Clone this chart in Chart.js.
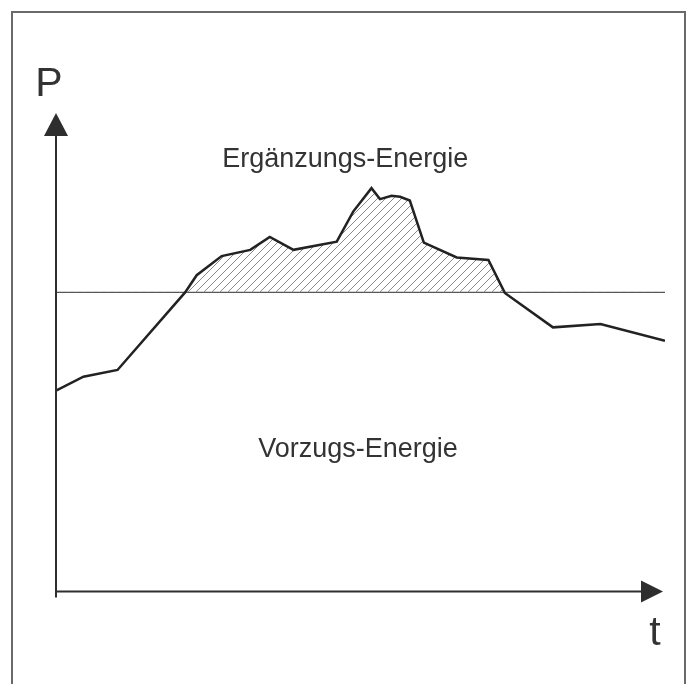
<!DOCTYPE html>
<html>
<head>
<meta charset="utf-8">
<script src="https://cdn.jsdelivr.net/npm/chart.js@4.4.1/dist/chart.umd.min.js"></script>
<style>
  html, body { margin:0; padding:0; background:#fff; }
  #wrap { position:relative; width:688px; height:684px; overflow:hidden; }
  #frame { position:absolute; left:11px; top:11px; width:675px; height:700px; border:2px solid #6a6a6a; box-sizing:border-box; }
  canvas { position:absolute; left:0; top:0; }
</style>
</head>
<body>
<div id="wrap">
  <div id="frame"></div>
  <canvas id="chart" width="688" height="684"></canvas>
</div>
<script>
// time axis (arbitrary units 0..100) and power values
const tValues = [0, 4.5, 10.1, 21.2, 23.1, 27.2, 31.9, 35.1, 39.0, 46.1, 48.8, 51.8, 53.2, 55.1, 56.5, 58.1, 60.4, 65.8, 71.0, 73.7, 81.6, 89.4, 100];
const pValues = [42.0, 44.9, 46.3, 62.5, 66.1, 70.1, 71.4, 74.1, 71.4, 73.1, 79.4, 84.3, 82.0, 82.7, 82.5, 81.7, 72.9, 69.8, 69.3, 62.4, 55.2, 55.9, 52.4];
// base level (Vorzugs-Energie limit)
const baseLevel = 62.5;
const refT = [0, 100];

const labelTop = "Ergänzungs-Energie";
const labelBottom = "Vorzugs-Energie";
const axisY = "P";
const axisX = "t";

function hatch(){
  const c = document.createElement("canvas");
  c.width = 8; c.height = 8;
  const g = c.getContext("2d");
  g.strokeStyle = "#8a8a8a";
  g.lineWidth = 1;
  g.beginPath();
  g.moveTo(0, 8); g.lineTo(8, 0);
  g.moveTo(-1, 1); g.lineTo(1, -1);
  g.moveTo(7, 9); g.lineTo(9, 7);
  g.stroke();
  return g.createPattern(c, "repeat");
}

// axes with arrow heads + texts
const sketchPlugin = {
  id: "sketch",
  afterDraw(chart){
    const ctx = chart.ctx;
    const xs = chart.scales.x, ys = chart.scales.y;
    const x0 = xs.getPixelForValue(0);
    const y0 = ys.getPixelForValue(0);
    const yTop = ys.getPixelForValue(100);
    const xEnd = xs.getPixelForValue(100) - 2;
    ctx.save();
    ctx.strokeStyle = "#2e2e2e";
    ctx.fillStyle = "#2e2e2e";
    ctx.lineWidth = 2;
    ctx.beginPath();
    ctx.moveTo(x0, y0 + 6);
    ctx.lineTo(x0, yTop + 18);
    ctx.moveTo(x0, y0);
    ctx.lineTo(xEnd - 18, y0);
    ctx.stroke();
    // arrow heads
    ctx.beginPath();
    ctx.moveTo(x0, yTop);
    ctx.lineTo(x0 - 12, yTop + 23);
    ctx.lineTo(x0 + 12, yTop + 23);
    ctx.closePath();
    ctx.fill();
    ctx.beginPath();
    ctx.moveTo(xEnd, y0);
    ctx.lineTo(xEnd - 22, y0 - 11);
    ctx.lineTo(xEnd - 22, y0 + 11);
    ctx.closePath();
    ctx.fill();

    ctx.fillStyle = "#333";
    ctx.textAlign = "center";
    ctx.textBaseline = "alphabetic";
    ctx.font = "27px 'Liberation Sans', Arial, sans-serif";
    ctx.fillText(labelTop, xs.getPixelForValue(47.5), ys.getPixelForValue(88.7));
    ctx.fillText(labelBottom, xs.getPixelForValue(49.6), ys.getPixelForValue(28.1));
    ctx.font = "41px 'Liberation Sans', Arial, sans-serif";
    ctx.fillText(axisY, 49, 96);
    ctx.fillText(axisX, 655, 645);
    ctx.restore();
  }
};

new Chart(document.getElementById("chart"), {
  type: "line",
  data: {
    datasets: [
      {
        data: tValues.map((t, i) => ({ x: t, y: pValues[i] })),
        borderColor: "#222",
        borderWidth: 2.5,
        pointRadius: 0,
        tension: 0,
        fill: { target: { value: baseLevel }, above: hatch(), below: "rgba(0,0,0,0)" }
      },
      {
        data: refT.map(t => ({ x: t, y: baseLevel })),
        borderColor: "#555",
        borderWidth: 1.3,
        pointRadius: 0,
        fill: false
      }
    ]
  },
  options: {
    responsive: false,
    animation: false,
    layout: { padding: { left: 56, top: 113, right: 23, bottom: 92.5 } },
    plugins: { legend: { display: false }, tooltip: { enabled: false } },
    scales: {
      x: { type: "linear", min: 0, max: 100, display: false },
      y: { type: "linear", min: 0, max: 100, display: false }
    }
  },
  plugins: [sketchPlugin]
});
</script>
</body>
</html>
